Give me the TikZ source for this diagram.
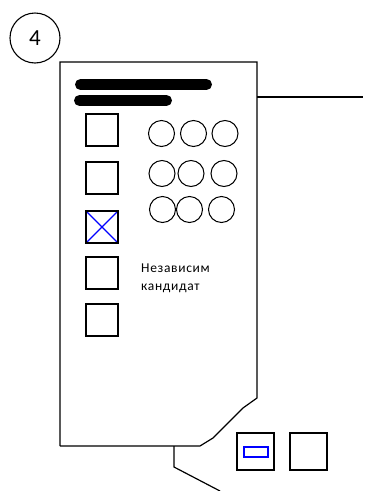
\documentclass[tikz,border=0pt]{standalone}
\usepackage{fontspec}
\setmainfont{Carlito}
\begin{document}
\begin{tikzpicture}[x=1pt,y=-1pt,
  ln/.style={line width=1.2pt,black},
  box/.style={draw,line width=1.2pt,minimum width=32pt,minimum height=32pt,inner sep=0pt},
  ring/.style={draw,circle,line width=1pt,minimum size=26pt,inner sep=0pt},
  bar/.style={line width=11pt,line cap=round},
  lbl/.style={font=\fontsize{13.5}{18}\selectfont\addfontfeature{LetterSpace=5},align=left,anchor=base west,inner sep=0pt}]
\useasboundingbox (0,0) rectangle (365,491);
% number circle
\node[draw,circle,line width=1.1pt,minimum size=50pt,inner sep=0pt,font=\fontsize{23}{23}\selectfont] (num) at (35,38) {4};
% ballot outline
\coordinate (tl) at (60,62);
\coordinate (tr) at (257,62);
\coordinate (r1) at (257,398);
\coordinate (r2) at (243,408);
\coordinate (r3) at (213,438);
\coordinate (r4) at (200,446);
\coordinate (bl) at (60,446);
\draw[ln] (bl) -- (tl) -- (tr) -- (r1) -- (r2) -- (r3) -- (r4) -- (bl);
\coordinate (hr) at (363,97);
\coordinate (hl) at (257,97);
\draw[ln] (hl) -- (hr);
\coordinate (s1) at (174,446);
\coordinate (s2) at (174,467);
\coordinate (s3) at (220,491);
\draw[ln] (s1) -- (s2) -- (s3);
% bars
\draw[bar] (80.5,84.5) -- (206.5,84.5);
\draw[bar] (79.5,100.5) -- (166.5,100.5);
% squares
\node[box] (b1) at (102,130) {};
\node[box] (b2) at (102,178) {};
\node[box] (b3) at (102,227) {};
\node[box] (b4) at (102,273) {};
\node[box] (b5) at (102,320) {};
\draw[blue,line width=1.1pt] (b3.north west) -- (b3.south east) (b3.north east) -- (b3.south west);
\node[box,draw=black] at (102,227) {};
% circles
\node[ring] (c11) at (161.5,133.5) {};
\node[ring] (c12) at (193.5,133.5) {};
\node[ring] (c13) at (225,133.5) {};
\node[ring] (c21) at (162,173.5) {};
\node[ring] (c22) at (191,173.5) {};
\node[ring] (c23) at (224,173.5) {};
\node[ring] (c31) at (162.5,209.5) {};
\node[ring] (c32) at (189.5,209.5) {};
\node[ring] (c33) at (221.5,209.5) {};
% label
\node[lbl] (t) at (141,290) {Независим\\кандидат};
% bottom squares
\node[draw,line width=1.2pt,minimum width=37pt,minimum height=37pt,inner sep=0pt] (q1) at (255.5,451.5) {};
\node[draw,line width=1.2pt,minimum width=37pt,minimum height=37pt,inner sep=0pt] (q2) at (308.5,451.5) {};
\node[draw=blue,line width=1.1pt,minimum width=24pt,minimum height=10pt,inner sep=0pt] (br) at (256,452) {};
\end{tikzpicture}
\end{document}
